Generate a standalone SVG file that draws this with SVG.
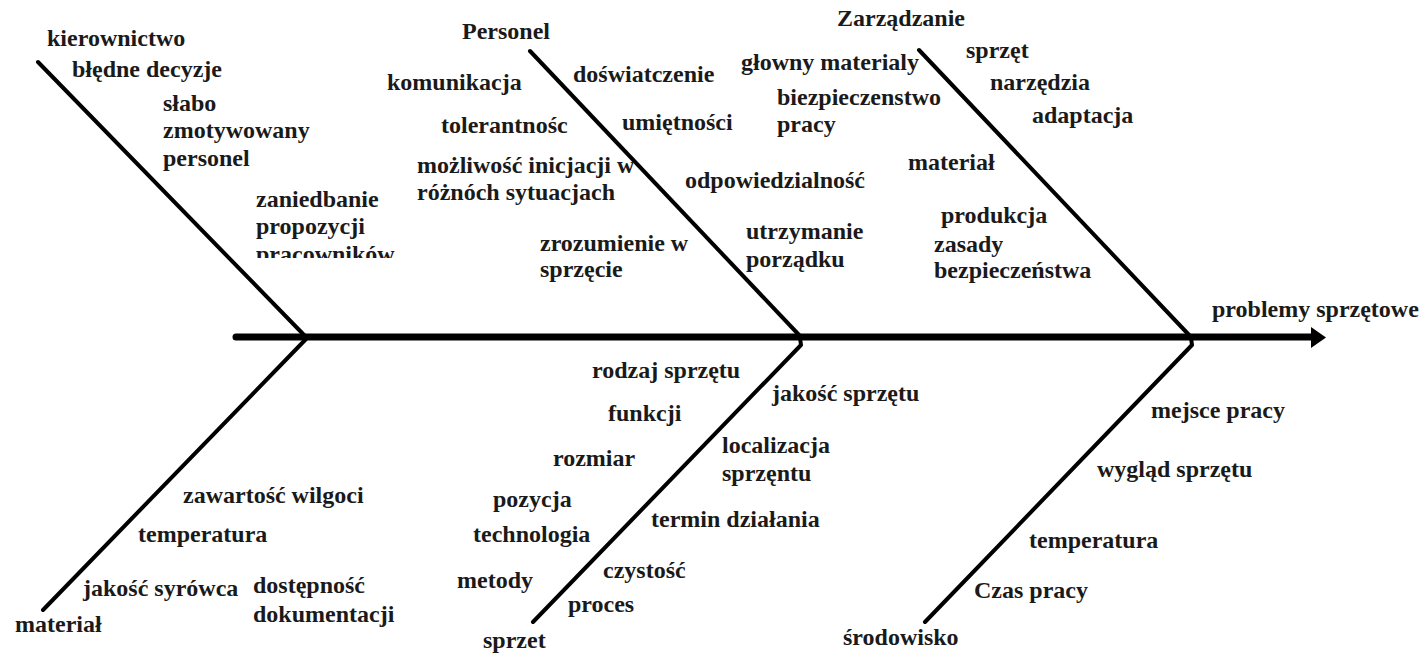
<svg xmlns="http://www.w3.org/2000/svg" width="1424" height="656" viewBox="0 0 1424 656">
<style>
text{font-family:"Liberation Serif","Times New Roman",serif;font-weight:bold;font-size:24px;fill:#1a1a1a}
.bone{stroke:#000;stroke-width:4;fill:none;stroke-linecap:round;stroke-linejoin:round}
.spine{stroke:#000;stroke-width:7;fill:none;stroke-linecap:round}
</style>
<defs>
<clipPath id="clipPrac"><rect x="240" y="240" width="200" height="18"/></clipPath>
</defs>
<rect width="1424" height="656" fill="#fff"/>
<g id="connectors">
<line class="spine" x1="236" y1="337" x2="1314" y2="337"/>
<polygon points="1311,327 1326,337.5 1311,348" fill="#000"/>
<polyline class="bone" points="38,62 305,336"/>
<polyline class="bone" points="307,338 43,610"/>
<polyline class="bone" points="530,51 800,336"/>
<polyline class="bone" points="800,338 801,345 533,622"/>
<polyline class="bone" points="919,50 1190,336"/>
<polyline class="bone" points="1191,338 1192,345 925,622"/>
</g>
<g id="effect"><text x="1212" y="317">problemy sprzętowe</text></g>
<g id="kierownictwo">
<text x="47" y="46">kierownictwo</text>
<g id="k1"><text x="72" y="77">błędne decyzje</text></g>
<g id="k2"><text x="163" y="111">słabo</text><text x="163" y="138">zmotywowany</text><text x="163" y="166">personel</text></g>
<g id="k3"><text x="256" y="207">zaniedbanie</text><text x="256" y="234">propozycji</text><text x="256" y="262" clip-path="url(#clipPrac)">pracowników</text></g>
</g>
<g id="personel">
<text x="462" y="39">Personel</text>
<g id="p1"><text x="387" y="90">komunikacja</text></g>
<g id="p2"><text x="573" y="82">doświatczenie</text></g>
<g id="p3"><text x="441" y="133">tolerantnośc</text></g>
<g id="p4"><text x="622" y="130">umiętności</text></g>
<g id="p5"><text x="417" y="173">możliwość inicjacji w</text><text x="417" y="200">różnóch sytuacjach</text></g>
<g id="p6"><text x="685" y="188">odpowiedzialność</text></g>
<g id="p7"><text x="540" y="251">zrozumienie w</text><text x="540" y="277">sprzęcie</text></g>
<g id="p8"><text x="746" y="239">utrzymanie</text><text x="746" y="267">porządku</text></g>
</g>
<g id="zarzadzanie">
<text x="837" y="26">Zarządzanie</text>
<g id="z1"><text x="741" y="70">głowny materialy</text></g>
<g id="z2"><text x="966" y="58">sprzęt</text></g>
<g id="z3"><text x="990" y="90">narzędzia</text></g>
<g id="z4"><text x="1032" y="123">adaptacja</text></g>
<g id="z5"><text x="777" y="105">biezpieczenstwo</text><text x="777" y="132">pracy</text></g>
<g id="z6"><text x="908" y="170">materiał</text></g>
<g id="z7"><text x="941" y="223">produkcja</text></g>
<g id="z8"><text x="934" y="252">zasady</text><text x="934" y="278">bezpieczeństwa</text></g>
</g>
<g id="material">
<text x="15" y="632">materiał</text>
<g id="m1"><text x="183" y="503">zawartość wilgoci</text></g>
<g id="m2"><text x="138" y="542">temperatura</text></g>
<g id="m3"><text x="83" y="596">jakość syrówca</text></g>
<g id="m4"><text x="253" y="593">dostępność</text><text x="253" y="622">dokumentacji</text></g>
</g>
<g id="sprzet">
<text x="483" y="648">sprzet</text>
<g id="s1"><text x="592" y="378">rodzaj sprzętu</text></g>
<g id="s2"><text x="772" y="401">jakość sprzętu</text></g>
<g id="s3"><text x="608" y="421">funkcji</text></g>
<g id="s4"><text x="722" y="453">localizacja</text><text x="722" y="481">sprzęntu</text></g>
<g id="s5"><text x="553" y="466">rozmiar</text></g>
<g id="s6"><text x="493" y="507">pozycja</text></g>
<g id="s7"><text x="651" y="527">termin działania</text></g>
<g id="s8"><text x="473" y="542">technologia</text></g>
<g id="s9"><text x="603" y="578">czystość</text></g>
<g id="s10"><text x="457" y="588">metody</text></g>
<g id="s11"><text x="568" y="612">proces</text></g>
</g>
<g id="srodowisko">
<text x="843" y="645">środowisko</text>
<g id="e1"><text x="1151" y="418">mejsce pracy</text></g>
<g id="e2"><text x="1097" y="477">wygląd sprzętu</text></g>
<g id="e3"><text x="1029" y="548">temperatura</text></g>
<g id="e4"><text x="974" y="598">Czas pracy</text></g>
</g>
</svg>
